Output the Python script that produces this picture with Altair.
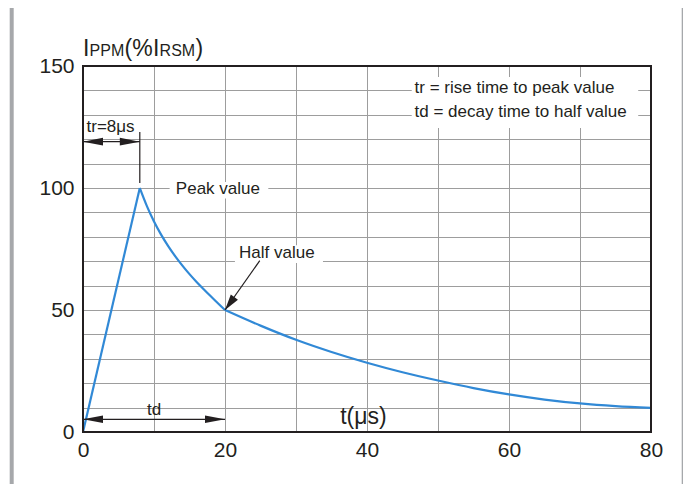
import altair as alt
import pandas as pd

# ---- data ----
rise_t = [0, 8]
rise_i = [0, 100]
front_t = [8, 9, 10, 11, 12, 13, 14, 15, 16, 17, 18, 19, 20]
front_i = [100, 92.6, 86.3, 80.9, 76.2, 72.0, 68.2, 64.7, 61.5, 58.5, 55.6, 52.8, 50.0]
tail_t = [20, 25, 30, 35, 40, 45, 50, 55, 60, 65, 70, 75, 80]
tail_i = [50, 43.6, 37.8, 32.8, 28.4, 24.5, 21.1, 18.0, 15.4, 13.3, 11.7, 10.6, 9.9]

x_ticks = list(range(0, 81, 10))
y_ticks = list(range(0, 151, 10))

# annotation texts (data coordinates)
note_labels = ["Peak value", "Half value", "tr = rise time to peak value",
               "td = decay time to half value", "tr=8μs", "td"]
note_t = [19.0, 27.3, 46.7, 46.7, 0.5, 10.0]
note_v = [99.6, 73.4, 140.8, 131.3, 125.0, 9.0]
note_align = ["center", "center", "left", "left", "left", "center"]

# white boxes behind the labels
box_t = [12.2, 21.4, 46.3]
box_t2 = [26.1, 33.8, 78.2]
box_v = [95.7, 69.3, 124.6]
box_v2 = [102.5, 76.5, 145.5]

# annotation lines
line_t = [8, 0, 0, 24.9]
line_t2 = [8, 8, 20, 20]
line_v = [102, 119, 5.2, 70.2]
line_v2 = [123, 119, 5.2, 50]

# arrow heads
head_t = [0, 8, 0, 20]
head_v = [119, 119, 5.2, 5.2]
head_angle = [180, 0, 180, 0]
diag_t = [20]
diag_v = [50]
diag_angle = [126]

INK = "#231f20"
BLUE = "#3189d6"
GRAY_FRAME = "#a6a8ab"
FONT = "Liberation Sans"
W, H = 568, 366

xscale = alt.Scale(domain=[0, 80], nice=False, zero=False)
yscale = alt.Scale(domain=[0, 150], nice=False, zero=False)
xaxis = alt.Axis(values=x_ticks, labelExpr="datum.value % 20 === 0 ? datum.label : ''",
                 title=None, domain=False, ticks=False, labelFlush=False, labelOverlap=False,
                 labelPadding=7, labelFontSize=21, labelColor=INK, labelFont=FONT,
                 gridColor="#9d9d9d", gridWidth=1)
yaxis = alt.Axis(values=y_ticks, labelExpr="datum.value % 50 === 0 ? datum.label : ''",
                 title=None, domain=False, ticks=False, labelOverlap=False,
                 labelPadding=9, labelFontSize=21, labelColor=INK, labelFont=FONT,
                 gridColor="#9d9d9d", gridWidth=1)


def X(f):
    return alt.X(f, type="quantitative", scale=xscale, axis=xaxis)


def Y(f):
    return alt.Y(f, type="quantitative", scale=yscale, axis=yaxis)


curve_df = pd.DataFrame({
    "t": rise_t + front_t + tail_t,
    "v": rise_i + front_i + tail_i,
    "seg": ["rise"] * len(rise_t) + ["front"] * len(front_t) + ["tail"] * len(tail_t),
})
notes_df = pd.DataFrame({"label": note_labels, "t": note_t, "v": note_v, "align": note_align})
boxes_df = pd.DataFrame({"t": box_t, "t2": box_t2, "v": box_v, "v2": box_v2})
lines_df = pd.DataFrame({"t": line_t, "t2": line_t2, "v": line_v, "v2": line_v2})
heads_df = pd.DataFrame({"t": head_t, "v": head_v, "ang": head_angle})
diag_df = pd.DataFrame({"t": diag_t, "v": diag_v, "ang": diag_angle})
one = pd.DataFrame({"k": [0]})

curve = alt.Chart(curve_df).mark_line(color=BLUE, strokeWidth=2.2, interpolate="monotone").encode(
    x=X("t"), y=Y("v"), detail="seg:N"
)

boxes = alt.Chart(boxes_df).mark_rect(color="white").encode(
    x=X("t"), x2="t2", y=Y("v"), y2="v2"
)

lines = alt.Chart(lines_df).mark_rule(color=INK, strokeWidth=1.2).encode(
    x=X("t"), x2="t2", y=Y("v"), y2="v2"
)

ARROW = "M0,0L-2,-0.38L-2,0.38Z"
heads = alt.Chart(heads_df).mark_point(shape=ARROW, filled=True, opacity=1, color=INK, size=400).encode(
    x=X("t"), y=Y("v"), angle=alt.Angle("ang:Q", scale=None)
)
diag = alt.Chart(diag_df).mark_point(shape="M0,0L-2,-0.55L-2,0.55Z", filled=True, opacity=1, color=INK, size=256).encode(
    x=X("t"), y=Y("v"), angle=alt.Angle("ang:Q", scale=None)
)

notes_c = alt.Chart(notes_df[notes_df["align"] == "center"]).mark_text(
    font=FONT, fontSize=17, color=INK, align="center", baseline="middle"
).encode(x=X("t"), y=Y("v"), text="label:N")
notes_l = alt.Chart(notes_df[notes_df["align"] == "left"]).mark_text(
    font=FONT, fontSize=17, color=INK, align="left", baseline="middle"
).encode(x=X("t"), y=Y("v"), text="label:N")

xtitle = alt.Chart(pd.DataFrame({"label": ["t(μs)"], "t": [39.5], "v": [6.3]})).mark_text(
    font=FONT, fontSize=23, color=INK, align="center", baseline="middle"
).encode(x=X("t"), y=Y("v"), text="label:N")

# y-axis title pieces: I PPM ( % I RSM )
title_parts = [("I", 0, 23), ("PPM", 6.6, 16), ("(%", 41.6, 23), ("I", 70.0, 23), ("RSM", 76.6, 16), (")", 112.5, 23)]
title_layers = []
for txt, dx, fs in title_parts:
    title_layers.append(
        alt.Chart(one).mark_text(text=txt, font=FONT, fontSize=fs, color=INK, align="left",
                                 baseline="alphabetic").encode(x=alt.value(dx), y=alt.value(-10))
    )

border = alt.Chart(one).mark_rect(fillOpacity=0, stroke=INK, strokeWidth=2).encode(
    x=alt.value(0), x2=alt.value(W), y=alt.value(0), y2=alt.value(H)
)

frame_left = alt.Chart(one).mark_rect(color=GRAY_FRAME).encode(
    x=alt.value(-73.3), x2=alt.value(-69.3), y=alt.value(-58), y2=alt.value(420)
)
frame_right = alt.Chart(one).mark_rect(color=GRAY_FRAME).encode(
    x=alt.value(598.7), x2=alt.value(602.7), y=alt.value(-58), y2=alt.value(420)
)

chart = alt.layer(
    frame_left, frame_right, boxes, curve, lines, heads, diag, notes_c, notes_l, xtitle,
    *title_layers, border
).properties(
    width=W, height=H,
    autosize=alt.AutoSizeParams(type="none"),
    padding={"left": 75, "top": 58, "right": 32, "bottom": 52},
).configure_view(stroke=None).configure(background="white")

chart.save("out.html", embed_options={"renderer": "svg", "actions": False})
